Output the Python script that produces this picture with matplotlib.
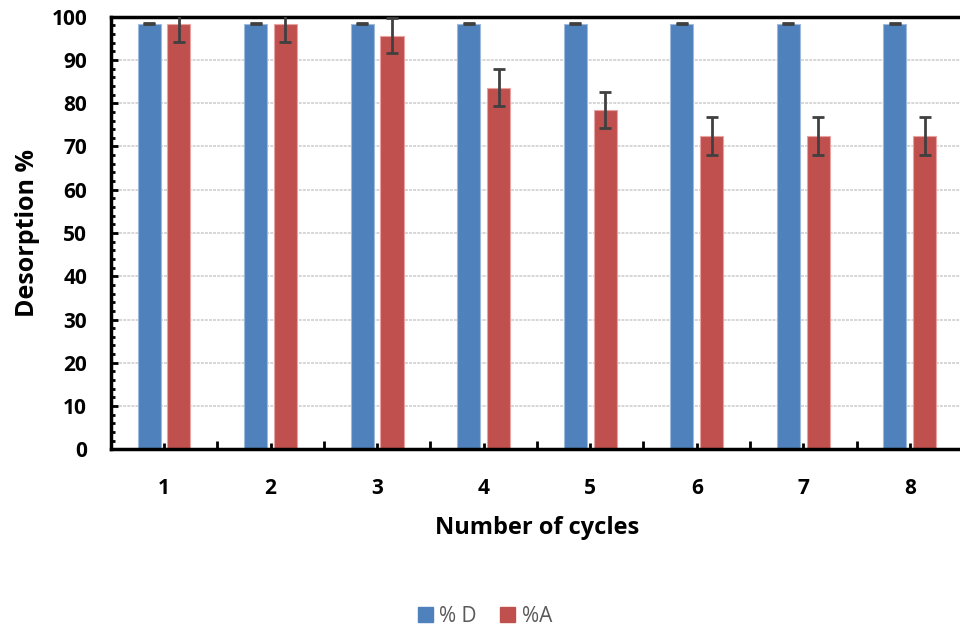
import matplotlib
matplotlib.use('Agg')
import matplotlib.pyplot as plt
from matplotlib.patches import Patch
from matplotlib.ticker import MultipleLocator

plt.rcParams['font.family'] = ['Open Sans', 'DejaVu Sans']

# data
cycles = [1, 2, 3, 4, 5, 6, 7, 8]
d_vals = [98.4, 98.4, 98.4, 98.4, 98.4, 98.4, 98.4, 98.4]
d_err = [0.2, 0.2, 0.2, 0.2, 0.2, 0.2, 0.2, 0.2]
a_vals = [98.4, 98.4, 95.6, 83.6, 78.4, 72.4, 72.4, 72.4]
a_err = [4.2, 4.2, 4.1, 4.2, 4.2, 4.3, 4.3, 4.3]
labels = ['% D', '%A']

blue = '#4F81BD'
red = '#C0504D'
err_col = '#404040'

fig = plt.figure(figsize=(9.6, 6.3), dpi=100)
ax = fig.add_axes([0.1153, 0.2868, 0.888, 0.6867])

w = 0.216
off = 0.14
xd = [c - off for c in cycles]
xa = [c + off for c in cycles]
ax.bar(xd, d_vals, width=w, color=blue, edgecolor='#9db9dc', linewidth=0.8, zorder=2)
ax.bar(xa, a_vals, width=w, color=red, edgecolor='#e6a3a1', linewidth=0.8, zorder=2)
ax.errorbar(xd, d_vals, yerr=d_err, fmt='none', ecolor=err_col, elinewidth=2,
            capsize=4.5, capthick=2, zorder=3)
ax.errorbar(xa, a_vals, yerr=a_err, fmt='none', ecolor=err_col, elinewidth=2,
            capsize=4.5, capthick=2, zorder=3)

ax.set_xlim(0.5, 8.5)
ax.set_ylim(0, 100)

# gridlines
ax.yaxis.grid(True, color='#d6d6d6', linewidth=1.4, linestyle=(0, (1.5, 0.6)), zorder=0)
ax.set_axisbelow(True)

# y ticks
ax.yaxis.set_major_locator(MultipleLocator(10))
ax.yaxis.set_minor_locator(MultipleLocator(2))
ax.tick_params(axis='y', which='major', direction='in', length=5, width=2, pad=17,
               labelsize=15)
ax.tick_params(axis='y', which='minor', direction='in', length=3.2, width=2)
for t in ax.get_yticklabels():
    t.set_fontweight('bold')

# x ticks: major at boundaries, minor (labelled) at centres
ax.set_xticks([c - 0.5 for c in cycles] + [8.5])
ax.set_xticklabels([])
ax.set_xticks(cycles, minor=True)
ax.set_xticklabels([str(c) for c in cycles], minor=True, fontweight='bold')
ax.tick_params(axis='x', which='major', direction='in', length=6, width=2)
ax.tick_params(axis='x', which='minor', direction='in', length=4.5, width=2, pad=21,
               labelsize=15)

for s in ['left', 'bottom', 'top']:
    ax.spines[s].set_linewidth(2.5)
    ax.spines[s].set_color('black')
ax.spines['right'].set_visible(False)

ax.set_ylabel('Desorption %', fontsize=18, fontweight='bold', labelpad=8)
ax.set_xlabel('Number of cycles', fontsize=17, fontweight='bold', labelpad=12)

handles = [Patch(facecolor=blue, edgecolor=blue), Patch(facecolor=red, edgecolor=red)]
leg = fig.legend(handles, labels, loc='center', bbox_to_anchor=(0.505, 0.022), ncol=2,
                 frameon=False, fontsize=15, handlelength=0.75, handleheight=0.75,
                 handletextpad=0.3, columnspacing=1.1)
for t in leg.get_texts():
    t.set_color('#595959')

fig.savefig('out.png', dpi=100)
